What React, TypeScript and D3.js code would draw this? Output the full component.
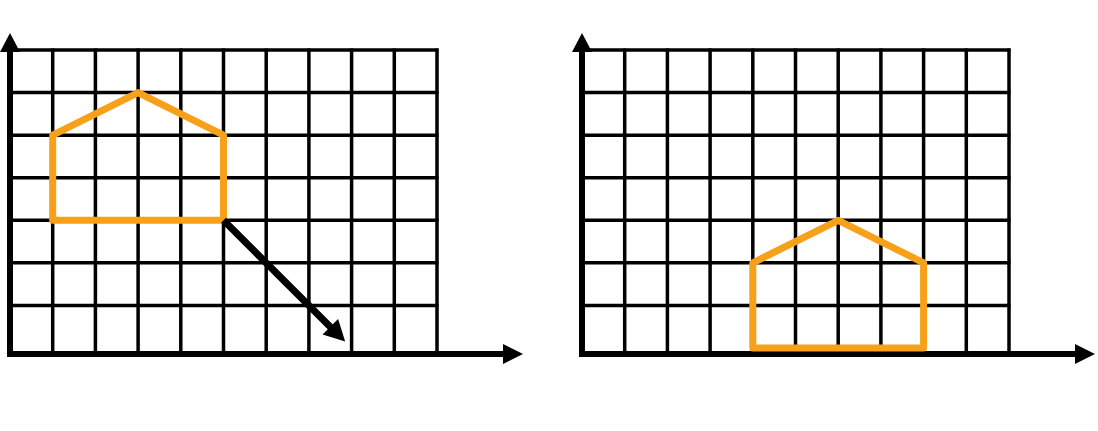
import React from 'react';
import * as d3 from 'd3';

// grid size (cells)
const gridCols = 10;
const gridRows = 7;

// house before and after the translation, in grid units
const houseBefore: [number, number][] = [[1, 3], [1, 5], [3, 6], [5, 5], [5, 3]];
const houseAfter: [number, number][] = [[4, 0], [4, 2], [6, 3], [8, 2], [8, 0]];

// translation arrow: start corner and vector
const arrowStart: [number, number] = [5, 3];
const arrowVector: [number, number] = [3, -3];

const W = 1098;
const H = 431;
const ORANGE = '#F7A11A';

type PanelProps = {
  left: number;
  house: [number, number][];
  showArrow: boolean;
};

function Panel({ left, house, showArrow }: PanelProps) {
  const x = d3.scaleLinear().domain([0, gridCols]).range([left, left + 427]);
  const y = d3.scaleLinear().domain([0, gridRows]).range([348, 50]);
  const line = d3.line<[number, number]>().x(d => x(d[0])).y(d => y(d[1]));

  const axisY = 354;
  const axisX = x(0);
  const xTip = left + 513;
  const yTip = 33;

  // arrow stops a little short of the target corner
  const frac = 0.95;
  const end: [number, number] = [arrowStart[0] + arrowVector[0] * frac, arrowStart[1] + arrowVector[1] * frac];
  const sx = x(arrowStart[0]), sy = y(arrowStart[1]);
  const ex = x(end[0]), ey = y(end[1]);
  const ang = Math.atan2(ey - sy, ex - sx);
  const headLen = 21, headW = 11;
  const bx = ex - headLen * Math.cos(ang), by = ey - headLen * Math.sin(ang);
  const px = -Math.sin(ang) * headW, py = Math.cos(ang) * headW;

  return (
    <g>
      {/* grid */}
      {d3.range(1, gridCols + 1).map(i => (
        <line key={'v' + i} x1={x(i)} x2={x(i)} y1={y(gridRows) - 1.5} y2={axisY} stroke="#000" strokeWidth={3.5} />
      ))}
      {d3.range(1, gridRows + 1).map(j => (
        <line key={'h' + j} x1={x(0)} x2={x(gridCols) + 1.5} y1={y(j)} y2={y(j)} stroke="#000" strokeWidth={3.5} />
      ))}
      {/* axes */}
      <line x1={axisX} x2={xTip - 18} y1={axisY} y2={axisY} stroke="#000" strokeWidth={6} />
      <path d={`M${xTip},${axisY} L${xTip - 20},${axisY - 10} L${xTip - 20},${axisY + 10} Z`} fill="#000" />
      <line x1={axisX} x2={axisX} y1={axisY + 3} y2={yTip + 17} stroke="#000" strokeWidth={6} />
      <path d={`M${axisX},${yTip} L${axisX - 10},${yTip + 19} L${axisX + 10},${yTip + 19} Z`} fill="#000" />
      {/* house */}
      <path d={line(house) + 'Z'} fill="none" stroke={ORANGE} strokeWidth={7} strokeLinejoin="round" />
      {showArrow && (
        <g>
          <line x1={sx} y1={sy} x2={bx + 3 * Math.cos(ang)} y2={by + 3 * Math.sin(ang)} stroke="#000" strokeWidth={7} />
          <path d={`M${ex},${ey} L${bx + px},${by + py} L${bx - px},${by - py} Z`} fill="#000" />
        </g>
      )}
    </g>
  );
}

export default function App() {
  return (
    <svg width={W} height={H} style={{ position: 'absolute', left: 0, top: 0, background: '#fff' }}>
      <rect width={W} height={H} fill="#fff" />
      <Panel left={10} house={houseBefore} showArrow={true} />
      <Panel left={582} house={houseAfter} showArrow={false} />
    </svg>
  );
}
